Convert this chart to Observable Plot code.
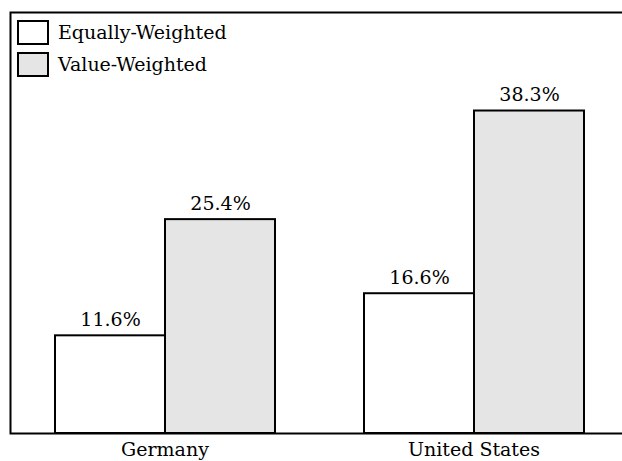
<!DOCTYPE html>
<html>
<head>
<meta charset="utf-8">
<script src="https://cdn.jsdelivr.net/npm/d3@7"></script>
<script src="https://cdn.jsdelivr.net/npm/@observablehq/plot@0.6"></script>
<style>
  html, body { margin: 0; padding: 0; overflow: hidden; background: white; }
  #wrap { position: relative; width: 622px; height: 461px; font-family: "DejaVu Serif", serif; }
  #legend { position: absolute; left: 17px; top: 20px; font-size: 19px; color: #000; }
  .row { display: flex; align-items: center; height: 24px; margin-bottom: 8px; }
  .sw { width: 32px; height: 25px; box-sizing: border-box; border: 2px solid #000; margin-right: 9px; }
</style>
</head>
<body>
<div id="wrap"><div id="legend"></div></div>
<script>
const countries = ["Germany", "United States"];
const types = ["Equally-Weighted", "Value-Weighted"];
const equallyWeighted = [11.6, 16.6];
const valueWeighted = [25.4, 38.3];
const colors = ["#ffffff", "#e5e5e5"];

const data = [];
countries.forEach((c, i) => {
  data.push({country: c, type: types[0], value: equallyWeighted[i]});
  data.push({country: c, type: types[1], value: valueWeighted[i]});
});

const chart = Plot.plot({
  width: 622,
  height: 461,
  marginLeft: 10,
  marginRight: -6,
  marginTop: 12,
  marginBottom: 28,
  style: {fontFamily: "'DejaVu Serif', serif", fontSize: "19px", color: "#000", background: "white"},
  fx: {domain: countries, padding: 0, axis: "bottom", tickSize: 0, tickPadding: 9, label: null},
  x: {domain: types, paddingInner: 0, paddingOuter: 0.392, axis: null},
  y: {domain: [0, 50], axis: null},
  color: {domain: types, range: colors},
  marks: [
    Plot.barY(data, {fx: "country", x: "type", y: "value", fill: "type", stroke: "#000", strokeWidth: 2}),
    Plot.text(data, {fx: "country", x: "type", y: "value", text: d => d.value.toFixed(1) + "%", dy: -10, lineAnchor: "bottom", fontSize: 19, fill: "#000"}),
    Plot.frame({facet: "super", stroke: "#000", strokeWidth: 2})
  ]
});
document.getElementById("wrap").prepend(chart);

const legend = document.getElementById("legend");
types.forEach((t, i) => {
  const row = document.createElement("div");
  row.className = "row";
  const sw = document.createElement("div");
  sw.className = "sw";
  sw.style.background = colors[i];
  const lab = document.createElement("span");
  lab.textContent = t;
  row.append(sw, lab);
  legend.append(row);
});
</script>
</body>
</html>
